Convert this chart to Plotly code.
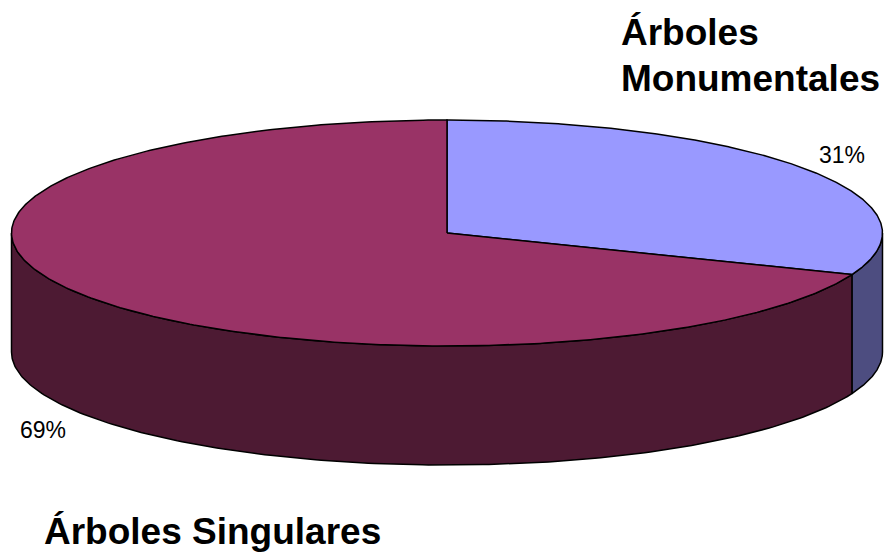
import numpy as np
import plotly.graph_objects as go

# ---- data ----
labels = ["Árboles Monumentales", "Árboles Singulares"]
values = [31, 69]
pct_labels = ["31%", "69%"]
top_colors = ["#9999FF", "#993366"]
side_colors = ["#4D4D80", "#4D1A33"]

# ---- geometry of the 3D pie (pixel space) ----
W, H = 884, 554
cx, cy = 447, 233
rx, ry = 435.5, 113
depth = 119


def ell(theta_deg, dy=0.0):
    t = np.radians(theta_deg)
    return cx + rx * np.cos(t), cy - ry * np.sin(t) + dy


fig = go.Figure()

total = float(sum(values))
start = 90.0
slices = []
for v in values:
    sweep = 360.0 * v / total
    end = start - sweep
    slices.append((end, start))
    start = end

line_style = dict(color="black", width=1.5)

# side walls (front half: angles where sin < 0)
for (lo, hi), col in zip(slices, side_colors):
    for k in range(-2, 2):
        a = max(lo, -180 + 360 * k)
        b = min(hi, 360 * k)
        if b - a <= 0.01:
            continue
        th = np.linspace(b, a, 200)
        xt, yt = ell(th)
        xb, yb = ell(th[::-1], depth)
        xs = np.concatenate([xt, xb, xt[:1]])
        ys = np.concatenate([yt, yb, yt[:1]])
        fig.add_trace(go.Scatter(x=xs, y=ys, mode="lines", fill="toself",
                                 fillcolor=col, line=line_style,
                                 hoverinfo="skip", showlegend=False))

# top faces
for (lo, hi), col in zip(slices, top_colors):
    th = np.linspace(hi, lo, 400)
    xa, ya = ell(th)
    xs = np.concatenate([[cx], xa, [cx]])
    ys = np.concatenate([[cy], ya, [cy]])
    fig.add_trace(go.Scatter(x=xs, y=ys, mode="lines", fill="toself",
                             fillcolor=col, line=line_style,
                             hoverinfo="skip", showlegend=False))

font_family = "Liberation Sans, Arial, sans-serif"
ann = []
# category labels
ann.append(dict(x=619, y=32, text="Árboles", xanchor="left", yanchor="middle",
                font=dict(size=37, color="black", family=font_family)))
ann.append(dict(x=619, y=78, text="Monumentales", xanchor="left", yanchor="middle",
                font=dict(size=37, color="black", family=font_family)))
ann.append(dict(x=42, y=531, text=labels[1], xanchor="left", yanchor="middle",
                font=dict(size=37, color="black", family=font_family)))
# percent labels
ann.append(dict(x=817, y=155, text=pct_labels[0], xanchor="left", yanchor="middle",
                font=dict(size=23, color="black", family=font_family)))
ann.append(dict(x=18, y=430, text=pct_labels[1], xanchor="left", yanchor="middle",
                font=dict(size=23, color="black", family=font_family)))
for a in ann:
    a.update(xref="x", yref="y", showarrow=False)
    a["text"] = "<b>" + a["text"] + "</b>" if a["font"]["size"] == 37 else a["text"]

fig.update_layout(
    width=W, height=H,
    margin=dict(l=0, r=0, t=0, b=0),
    paper_bgcolor="white", plot_bgcolor="white",
    xaxis=dict(range=[0, W], visible=False, fixedrange=True),
    yaxis=dict(range=[H, 0], visible=False, fixedrange=True),
    annotations=ann,
    showlegend=False,
)

fig.write_html(
    "out.html",
    config={"displayModeBar": False},
    post_script="document.body.style.margin='0';document.body.style.overflow='hidden';",
)
